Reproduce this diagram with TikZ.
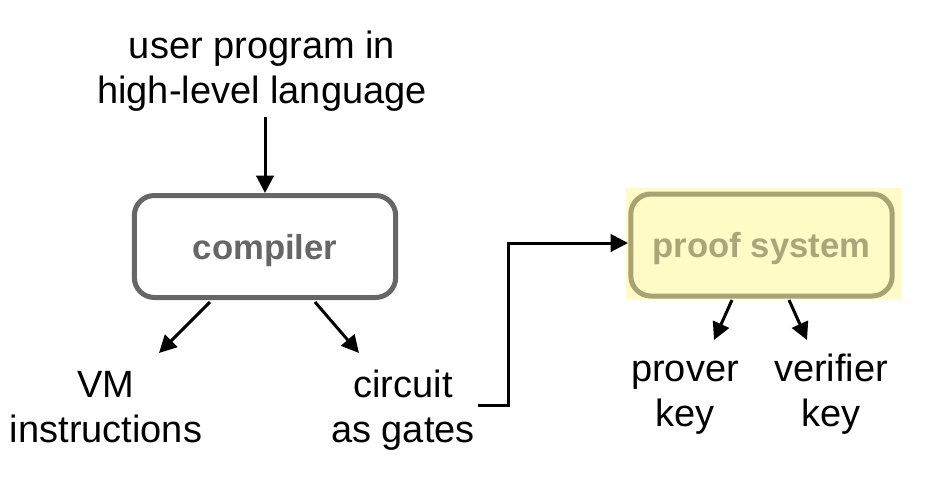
\documentclass[tikz,border=0pt]{standalone}
\usepackage{fontspec}
\setmainfont{Liberation Sans}
\usetikzlibrary{arrows.meta}
\definecolor{cgray}{HTML}{666666}
\definecolor{pyellow}{HTML}{FFFBC7}
\definecolor{pborder}{HTML}{A8A373}
\definecolor{ptext}{HTML}{AAA677}
\begin{document}
\begin{tikzpicture}[x=0.75pt,y=-0.75pt,
  lbl/.style={font=\fontsize{28.5}{33.75}\selectfont, align=center, inner sep=0pt, anchor=base},
  arr/.style={line width=2.25pt, -{Triangle[length=13pt,width=13pt]}},
  box/.style={rounded corners=15pt, line width=3.75pt, minimum width=196pt, minimum height=76.5pt,
    font=\fontsize{26}{30}\selectfont\bfseries, inner sep=0pt, text depth=0pt}]
\useasboundingbox (0,0) rectangle (934,480);
% top label
\node[lbl] (user) at (262,103) {user program in\\high-level language};
% compiler
\node[box, draw=cgray, text=cgray, fill=white] (compiler) at (265,246.5) {compiler};
% proof system
\fill[pyellow] (626,188) rectangle (902,299);
\node[box, draw=pborder, text=ptext, fill=pyellow] (proof) at (761.5,245) {proof system};
% bottom labels
\node[lbl] (vm) at (106,442) {VM\\instructions};
\node[lbl] (circ) at (403,442) {circuit\\as gates};
\node[lbl] (prover) at (685,426) {prover\\key};
\node[lbl] (verifier) at (831,426) {verifier\\key};
% coordinates
\coordinate (userbot) at (265,117);
\coordinate (c1) at (210,302);
\coordinate (vmtop) at (159,353);
\coordinate (c2) at (315,302);
\coordinate (circtop) at (359,353);
\coordinate (p1) at (732,300);
\coordinate (provtop) at (714,340);
\coordinate (p2) at (789,300);
\coordinate (vertop) at (807,340);
\coordinate (circout) at (478,405);
\coordinate (proofin) at (628,243);
% connectors
\draw[arr] (userbot) -- (compiler.north);
\draw[arr] (c1) -- (vmtop);
\draw[arr] (c2) -- (circtop);
\draw[arr] (p1) -- (provtop);
\draw[arr] (p2) -- (vertop);
\draw[arr] (circout) -- (508,405) |- (proofin);
\end{tikzpicture}
\end{document}
